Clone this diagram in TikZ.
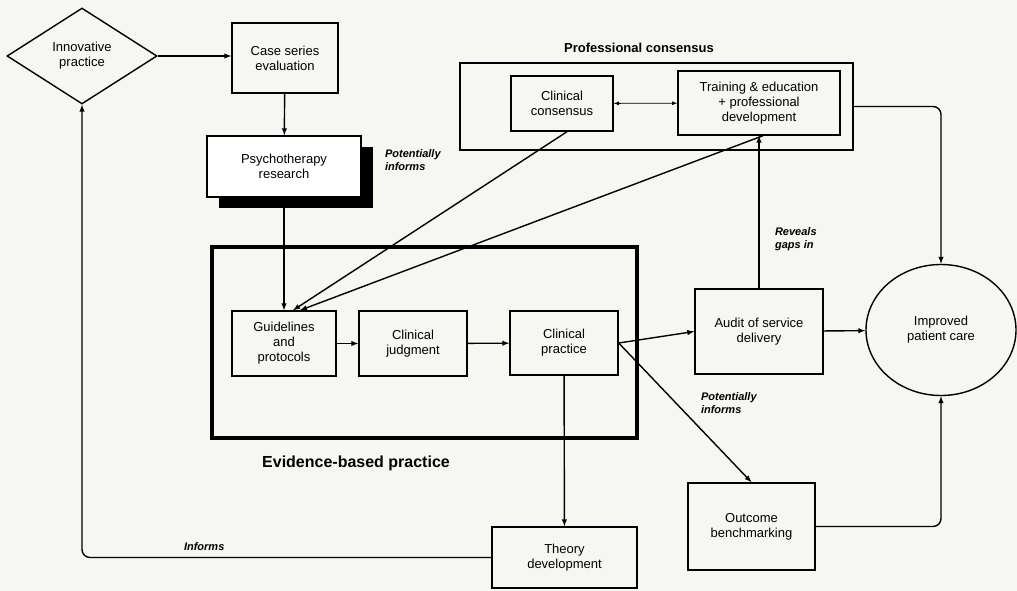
\documentclass[tikz,border=0pt]{standalone}
\usepackage{fontspec}
\setmainfont{Liberation Sans}
\usetikzlibrary{arrows,shapes.geometric,shadows}
\definecolor{paper}{RGB}{246,246,243}

\begin{document}
\begin{tikzpicture}[x=1pt,y=-1pt,>=latex,line width=1.4pt]
        \tikzstyle{box}=[draw,rectangle,align=center,inner sep=2pt,
                         font=\fontsize{13}{15}\selectfont]
        \tikzstyle{frame}=[draw,rectangle,inner sep=0pt]
        \tikzstyle{lbl}=[align=left,anchor=west,
                         font=\fontsize{11}{13}\selectfont\bfseries\itshape]

        \fill[paper] (0,0) rectangle (1017,591);
        \useasboundingbox (0,0) rectangle (1017,591);

        % outer frames
        \node[frame,line width=2.2pt,minimum width=393pt,minimum height=87pt]
              (prof) at (656.5,106.5) { };
        \node[frame,line width=3.2pt,minimum width=425pt,minimum height=191pt]
              (ebp)  at (424.5,342.5) { };
        \node[font=\fontsize{13}{15}\selectfont\bfseries] (proflbl) at (639,48)
              {Professional consensus};
        \node[font=\fontsize{16}{18}\selectfont\bfseries] (ebplbl) at (356,463)
              {Evidence-based practice};

        \node[draw,diamond,aspect=1.56,minimum width=150pt,minimum height=96pt,
              inner sep=0pt,align=center,font=\fontsize{13}{15}\selectfont]
              (innov)   at (82,56)      {Innovative\\practice};
        \node[box,minimum width=106pt,minimum height=70pt]
              (caseser) at (285,58)     {Case series\\evaluation};
        \node[box,fill=white,minimum width=154pt,minimum height=61pt,
              drop shadow={shadow xshift=12pt,shadow yshift=-11pt,fill=black,opacity=1}]
              (psych)   at (284,166.5)  {Psychotherapy\\research};
        \node[box,minimum width=104pt,minimum height=65pt]
              (guide)   at (284,343.5)  {Guidelines\\and\\protocols};
        \node[box,minimum width=108pt,minimum height=65pt]
              (judg)    at (413,343.5)  {Clinical\\judgment};
        \node[box,minimum width=108pt,minimum height=64pt]
              (cpract)  at (564,343)    {Clinical\\practice};
        \node[box,minimum width=102pt,minimum height=55pt]
              (ccons)   at (562,103.5)  {Clinical\\consensus};
        \node[box,minimum width=162pt,minimum height=64pt]
              (train)   at (759,103)    {Training \& education\\+ professional\\development};
        \node[box,minimum width=128pt,minimum height=85pt]
              (audit)   at (759,331.5)  {Audit of service\\delivery};
        \node[draw,ellipse,inner sep=0pt,align=center,minimum width=150pt,
              minimum height=131pt,font=\fontsize{13}{15}\selectfont]
              (care)    at (941,330)    {Improved\\patient care};
        \node[box,minimum width=145pt,minimum height=61pt]
              (theory)  at (564.5,557.5) {Theory\\development};
        \node[box,minimum width=127pt,minimum height=87pt]
              (outcome) at (751.5,526.5) {Outcome\\benchmarking};

        \path[->]
                  (innov.east) edge (innov.east -| caseser.west)
                  (caseser) edge (psych)
                  (psych)  edge (guide)
                  (guide)  edge (judg)
                  (judg)   edge (cpract)
                  (cpract.east) edge (audit.west)
                  (cpract.east) edge (outcome.north)
                  (cpract) edge (theory)
                  (audit)  edge (train)
                  (audit)  edge (care)
                  ([xshift=5pt]ccons.south) edge ([xshift=9pt]guide.north)
                  ([xshift=4pt]train.south) edge ([xshift=16pt]guide.north)
                  (ccons)  edge [<->,line width=0.8pt] (train);

        \draw[->,rounded corners=8pt] (theory.west) -| (innov.south);
        \draw[->,rounded corners=8pt] (prof.east) -| (care.north);
        \draw[->,rounded corners=8pt] (outcome.east) -| (care.south);

        \node[lbl] (potinf1) at (381,160) {Potentially\\informs};
        \node[lbl] (revgaps) at (771,239) {Reveals\\gaps in};
        \node[lbl] (potinf2) at (697,403) {Potentially\\informs};
        \node[lbl] (informs) at (180,547) {Informs};
\end{tikzpicture}
\end{document}
